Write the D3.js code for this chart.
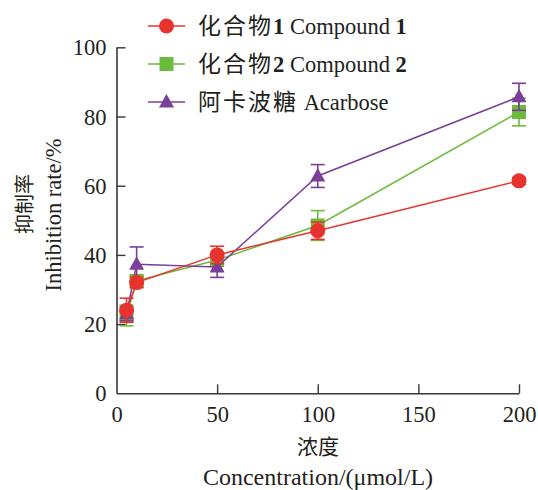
<!DOCTYPE html>
<html>
<head>
<meta charset="utf-8">
<script src="https://cdn.jsdelivr.net/npm/d3@7"></script>
<style>
  body { margin: 0; background: #fff; }
  text { font-family: "Liberation Serif", "Times New Roman", "DejaVu Serif", serif; fill: #231f20; }
</style>
</head>
<body>
<div id="chart"></div>
<script>
(function () {
    // 数据
    const concentrations = [5, 10, 50, 100, 200];
    const xTicks = [0, 50, 100, 150, 200];
    const yTicks = [0, 20, 40, 60, 80, 100];

    const compound1Values = [24, 32, 40, 47, 61.4];
    const compound1Errors = [3.5, 1.5, 2.5, 2.5, 1];
    const compound2Values = [22.5, 32.5, 38.5, 48.5, 81.3];
    const compound2Errors = [3, 1.5, 1.5, 4.3, 4];
    const acarboseValues = [23, 37.3, 36.5, 62.8, 85.7];
    const acarboseErrors = [2, 5, 3, 3.3, 3.9];

    const serifFont = "'Liberation Serif', 'Times New Roman', 'DejaVu Serif', serif";
    const cjkFont = "'Noto Sans CJK SC', sans-serif";

    const series = [
        { key: "c2", values: compound2Values, errors: compound2Errors, color: "#6cbb3c", shape: "square" },
        { key: "aca", values: acarboseValues, errors: acarboseErrors, color: "#7a3f97", shape: "triangle" },
        { key: "c1", values: compound1Values, errors: compound1Errors, color: "#e8322e", shape: "circle" }
    ];

    const legendItems = [
        { zh: "化合物", num: "1", en: " Compound ", num2: "1", color: "#e8322e", shape: "circle" },
        { zh: "化合物", num: "2", en: " Compound ", num2: "2", color: "#6cbb3c", shape: "square" },
        { zh: "阿卡波糖", num: "", en: " Acarbose", num2: "", color: "#7a3f97", shape: "triangle" }
    ];

    const width = 538, height = 490;
    const svg = d3.select("#chart").append("svg")
        .attr("width", width).attr("height", height);

    const x = d3.scaleLinear().domain([0, 200]).range([116.5, 519]);
    const y = d3.scaleLinear().domain([0, 100]).range([393.3, 47.3]);

    const axisColor = "#3a3633";

    // 坐标轴
    const xAxis = svg.append("g")
        .attr("transform", `translate(0,${y(0)})`)
        .call(d3.axisBottom(x).tickValues(xTicks).tickSizeInner(-9).tickSizeOuter(0).tickPadding(0));
    const yAxis = svg.append("g")
        .attr("transform", `translate(${x(0)},0)`)
        .call(d3.axisLeft(y).tickValues(yTicks).tickSizeInner(-9).tickSizeOuter(0).tickPadding(0));

    [xAxis, yAxis].forEach(g => {
        g.attr("font-family", null);
        g.select(".domain").attr("stroke", axisColor).attr("stroke-width", 1.6);
        g.selectAll(".tick line").attr("stroke", axisColor).attr("stroke-width", 1.4);
        g.selectAll(".tick text")
            .style("font-family", serifFont)
            .style("font-size", "22.5px")
            .attr("fill", "#231f20");
    });
    xAxis.selectAll(".tick text").attr("y", 13).attr("dy", "0.71em");
    yAxis.selectAll(".tick text").attr("x", -10).attr("dy", "0.34em");
    yAxis.selectAll(".tick").filter(d => d === 0).select("line").remove();
    xAxis.selectAll(".tick").filter(d => d === 0).select("line").remove();

    // 标记
    function drawMarker(sel, shape, color) {
        if (shape === "circle") {
            sel.append("circle").attr("r", 7.5).attr("fill", color);
        } else if (shape === "square") {
            sel.append("rect").attr("x", -7).attr("y", -7).attr("width", 14).attr("height", 14).attr("fill", color);
        } else {
            sel.append("path").attr("d", "M0,-8L7.5,5.5L-7.5,5.5Z").attr("fill", color);
        }
    }

    const line = d3.line().x(d => x(d.c)).y(d => y(d.v));

    series.forEach(s => {
        const pts = concentrations.map((c, i) => ({ c: c, v: s.values[i], e: s.errors[i] }));
        const g = svg.append("g").attr("class", "series-" + s.key);

        // 误差线
        const eb = g.selectAll(".err").data(pts).enter().append("g").attr("class", "err")
            .attr("stroke", s.color).attr("stroke-width", 1.6);
        eb.append("line")
            .attr("x1", d => x(d.c)).attr("x2", d => x(d.c))
            .attr("y1", d => y(d.v - d.e)).attr("y2", d => y(d.v + d.e));
        eb.append("line")
            .attr("x1", d => x(d.c) - 7).attr("x2", d => x(d.c) + 7)
            .attr("y1", d => y(d.v + d.e)).attr("y2", d => y(d.v + d.e));
        eb.append("line")
            .attr("x1", d => x(d.c) - 7).attr("x2", d => x(d.c) + 7)
            .attr("y1", d => y(d.v - d.e)).attr("y2", d => y(d.v - d.e));

        g.append("path").datum(pts)
            .attr("d", line).attr("fill", "none")
            .attr("stroke", s.color).attr("stroke-width", 1.5);

        g.selectAll(".pt").data(pts).enter().append("g").attr("class", "pt")
            .attr("transform", d => `translate(${x(d.c)},${y(d.v)})`)
            .each(function () { drawMarker(d3.select(this), s.shape, s.color); });
    });

    // 图例
    const legend = svg.append("g").attr("class", "legend");
    const lg = legend.selectAll(".lg").data(legendItems).enter().append("g")
        .attr("class", "lg")
        .attr("transform", (d, i) => `translate(148,${26 + i * 38})`);
    lg.append("line").attr("x1", 0).attr("x2", 37).attr("y1", 0).attr("y2", 0)
        .attr("stroke", d => d.color).attr("stroke-width", 1.5);
    lg.each(function (d) {
        const m = d3.select(this).append("g").attr("transform", "translate(18.5,0)");
        drawMarker(m, d.shape, d.color);
    });
    const lt = lg.append("text").attr("x", 50).attr("dy", "0.36em")
        .style("font-family", serifFont).style("font-size", "22.5px");
    lt.append("tspan").style("font-family", cjkFont).style("font-size", "23px")
        .style("letter-spacing", "2px").text(d => d.zh);
    lt.append("tspan").style("font-weight", "bold").text(d => d.num);
    lt.append("tspan").text(d => d.en);
    lt.append("tspan").style("font-weight", "bold").text(d => d.num2);

    // 轴标题
    const yLab = svg.append("g").attr("transform", "rotate(-90)");
    yLab.append("text").attr("x", -204).attr("y", 25).attr("text-anchor", "middle").attr("dy", "0.35em")
        .style("font-family", cjkFont).style("font-size", "20px").text("抑制率");
    yLab.append("text").attr("x", -215).attr("y", 53).attr("text-anchor", "middle").attr("dy", "0.35em")
        .style("font-family", serifFont).style("font-size", "22.5px").text("Inhibition rate/%");

    svg.append("text").attr("x", 318).attr("y", 447).attr("text-anchor", "middle").attr("dy", "0.35em")
        .style("font-family", cjkFont).style("font-size", "21px").text("浓度");
    svg.append("text").attr("x", 318).attr("y", 477).attr("text-anchor", "middle").attr("dy", "0.35em")
        .style("font-family", serifFont).style("font-size", "24px").text("Concentration/(μmol/L)");
})();
</script>
</body>
</html>
